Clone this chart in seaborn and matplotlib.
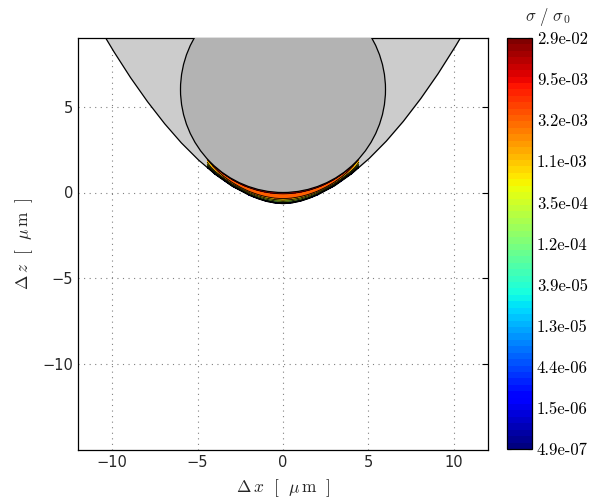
import numpy as np
import matplotlib
matplotlib.use("Agg")
import matplotlib.pyplot as plt
import seaborn as sns
from matplotlib.colors import LogNorm
from matplotlib.patches import Circle
from matplotlib.cm import ScalarMappable

# ---------------- data ----------------
# sphere (circle) geometry
sphere_center_x = 0.0
sphere_center_z = 6.0
sphere_radius = 6.0

# outer (tip) profile: half-width |x| vs height z
tip_x = [0.0, 0.5, 1.0, 1.5, 2.0, 3.0, 4.0, 5.0, 6.0, 7.0, 8.0, 9.0, 10.0, 11.0]
tip_z = [-0.65, -0.61, -0.51, -0.35, -0.15, 0.38, 1.08, 1.94, 2.94, 4.09, 5.38, 6.80, 8.36, 10.03]

# stress profile across the gap (t = 0 at sphere surface, 1 at tip surface)
depth_t = [0.0, 0.12, 0.55, 0.68, 0.80, 0.90, 0.95, 1.0]
depth_sigma = [2.8e-2, 9.5e-3, 3.2e-3, 1.1e-3, 3.5e-4, 1.2e-4, 2e-5, 1e-6]
# decay of the stress (log10 offset) towards the ends of the contact zone
edge_x = [0.0, 2.5, 3.5, 4.2, 4.6]
edge_decay = [0.0, 0.0, -0.15, -0.45, -0.8]
field_half_width = 4.45

sigma_min = 4.9e-7
sigma_max = 2.9e-2
cbar_labels = ["4.9e-07", "1.5e-06", "4.4e-06", "1.3e-05", "3.9e-05", "1.2e-04",
               "3.5e-04", "1.1e-03", "3.2e-03", "9.5e-03", "2.9e-02"]

xticks = [-10, -5, 0, 5, 10]
yticks = [-10, -5, 0, 5]
xlim = (-12, 12)
ylim = (-15, 9)

# ---------------- style ----------------
sns.set_theme(style="white")
plt.rcParams["font.family"] = ["DejaVu Sans"]
plt.rcParams["mathtext.fontset"] = "cm"
plt.rcParams["axes.unicode_minus"] = True

fig = plt.figure(figsize=(6.0, 5.01), dpi=100)
ax = fig.add_axes([78 / 600, 1 - 450 / 501, 410 / 600, 412 / 501])
cax = fig.add_axes([507 / 600, 1 - 449 / 501, 25 / 600, 411 / 501])

cmap = plt.get_cmap("jet", 64)
norm = LogNorm(vmin=sigma_min, vmax=sigma_max)
levels = np.logspace(np.log10(sigma_min), np.log10(sigma_max), len(cbar_labels))

# tip region (light grey)
xs = np.linspace(-11, 11, 881)
zs = np.interp(np.abs(xs), tip_x, tip_z)
ax.fill_between(xs, zs, 12, color="#cccccc", lw=0, zorder=2)

# stress field in the gap
X, Z = np.meshgrid(np.linspace(-4.7, 4.7, 800), np.linspace(-1.0, 2.4, 600))
zc = sphere_center_z - np.sqrt(np.clip(sphere_radius ** 2 - (X - sphere_center_x) ** 2, 0, None))
zp = np.interp(np.abs(X), tip_x, tip_z)
t = (zc - Z) / (zc - zp)
logS = np.interp(t, depth_t, np.log10(depth_sigma)) + np.interp(np.abs(X), edge_x, edge_decay)
S = 10 ** logS
S = np.ma.masked_where((t < -0.05) | (t > 1.0) | (np.abs(X) > field_half_width), S)
band_colors = [cmap(norm(l)) for l in levels[:-1]]
ax.contourf(X, Z, S, levels=levels, colors=band_colors, zorder=3)
ax.contour(X, Z, S, levels=levels, colors="black", linewidths=0.6, zorder=3.5)

# sphere
ax.add_patch(Circle((sphere_center_x, sphere_center_z), sphere_radius,
                    facecolor="#b3b3b3", edgecolor="black", lw=0.9, zorder=4))

# tip outline
sns.lineplot(x=xs, y=zs, sort=False, estimator=None, color="black", lw=0.9, ax=ax, zorder=5)

ax.set_xlim(*xlim)
ax.set_ylim(*ylim)
ax.set_xticks(xticks)
ax.set_yticks(yticks)
ax.set_axisbelow(True)
ax.grid(True, linestyle=(0, (1, 4)), color="#808080", lw=0.8)
ax.tick_params(direction="in", length=4, top=True, right=True, labelsize=10.5,
               colors="black", labelcolor="#262626", width=0.8)
for sp in ax.spines.values():
    sp.set_color("black")
    sp.set_linewidth(0.9)
ax.set_xlabel(r"$\Delta\,x\ \ [\ \ \mu\,\mathrm{m}\ \ ]$", fontsize=12.5, labelpad=5)
ax.set_ylabel(r"$\Delta\,z\ \ [\ \ \mu\,\mathrm{m}\ \ ]$", fontsize=12.5, labelpad=5)

# colorbar
sm = ScalarMappable(norm=norm, cmap=cmap)
cb = fig.colorbar(sm, cax=cax)
cb.minorticks_off()
cb.set_ticks(levels)
cb.set_ticklabels(cbar_labels)
cax.tick_params(direction="in", length=3, left=True, right=True, width=0.8, colors="black",
                labelsize=12)
for lab in cax.get_yticklabels():
    lab.set_family("cmr10")
cb.outline.set_edgecolor("black")
cb.outline.set_linewidth(0.9)
fig.text(548 / 600, 1 - 17 / 501, r"$\sigma\ /\ \sigma_{\,0}$", ha="center", va="center",
         fontsize=12)

fig.savefig("out.png", dpi=100)
